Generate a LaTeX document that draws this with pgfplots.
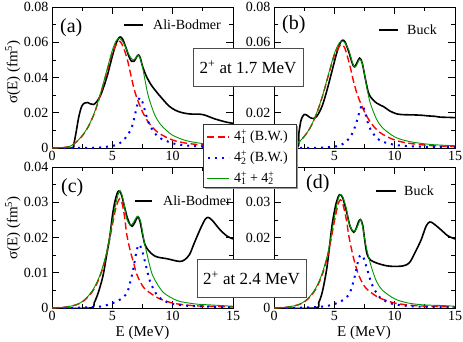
\documentclass[border=0pt]{standalone}
\usepackage{fontspec}
\setmainfont{Liberation Serif}
\usepackage{pgfplots}
\pgfplotsset{compat=1.18}
\definecolor{grn}{RGB}{0,150,0}
\newcommand{\fs}[1]{\fontsize{#1}{#1}\selectfont}
% 4 with stacked sub/sup, e.g. \st{4}{1}
\newcommand{\st}[2]{#1\rlap{\textsuperscript{+}}\textsubscript{#2}}

\pgfplotsset{
  panel/.style={
    scale only axis, width=181pt, height=141pt,
    xmin=0, xmax=15, xtick={0,5,10,15}, xticklabels={0,5,10,15},
    minor xtick={2.5,7.5,12.5},
    tick align=inside, xtick pos=both, ytick pos=both,
    xticklabel pos=lower, yticklabel pos=left,
    major tick length=7pt, minor tick length=4pt,
    every tick/.append style={black, line width=0.7pt},
    axis line style={line width=0.8pt},
    tick label style={font=\fs{14}},
    scaled y ticks=false,
    /pgf/number format/assume math mode=true,
  },
  top/.style={ymin=0, ymax=0.08, ytick={0,0.02,0.04,0.06,0.08},
    yticklabels={0,0.02,0.04,0.06,0.08}, minor ytick={0.01,0.03,0.05,0.07}},
  bot/.style={ymin=0, ymax=0.04, ytick={0,0.01,0.02,0.03,0.04},
    yticklabels={0,0.01,0.02,0.03,0.04}, minor ytick={0.005,0.015,0.025,0.035}},
  blk/.style={black, line width=1.6pt, smooth},
  rdd/.style={red, line width=1.4pt, dash pattern=on 7pt off 3.5pt, smooth},
  bld/.style={blue, line width=2pt, dash pattern=on 2pt off 5pt, smooth},
  gln/.style={grn, line width=0.9pt, smooth},
}

\begin{document}
\begin{tikzpicture}
\useasboundingbox (0,0) rectangle (463pt,-341pt);

% (a) 2+ at 1.7 MeV, Ali-Bodmer  (the "15" sits under the legend box)
\begin{axis}[panel, top, xticklabels={0,5,10,}, at={(52pt,-148pt)}, anchor=south west]
\addplot[blk] coordinates {(0,0)(1.65,0)(1.8,0.002)(2.0,0.009)(2.2,0.017)(2.45,0.0235)(2.7,0.0255)(2.95,0.0258)(3.2,0.025)(3.45,0.0247)(3.7,0.0262)(4.0,0.0295)(4.3,0.035)(4.6,0.0415)(4.9,0.0495)(5.2,0.057)(5.45,0.0615)(5.65,0.063)(5.85,0.0618)(6.1,0.0575)(6.4,0.0515)(6.6,0.0492)(6.8,0.0492)(7.0,0.0515)(7.15,0.0528)(7.3,0.0515)(7.5,0.0465)(7.8,0.041)(8.2,0.036)(8.7,0.0315)(9.2,0.0275)(9.7,0.0238)(10.2,0.0215)(10.7,0.0202)(11.2,0.0195)(11.7,0.0192)(12.2,0.0192)(12.6,0.0188)(13.0,0.0178)(13.5,0.0165)(14.0,0.0155)(14.5,0.0146)(15,0.014)};
\addplot[rdd] coordinates {(0,0)(1,0.0003)(1.5,0.001)(2,0.0033)(2.5,0.0068)(3,0.012)(3.5,0.0195)(4,0.03)(4.5,0.042)(5,0.054)(5.5,0.0605)(5.75,0.0595)(6,0.0555)(6.25,0.050)(6.5,0.0425)(6.75,0.035)(7,0.029)(7.5,0.0205)(8,0.0145)(8.5,0.0105)(9,0.0078)(10,0.0045)(11,0.0029)(12,0.002)(13,0.0014)(14,0.0011)(15,0.0009)};
\addplot[bld] coordinates {(1,0)(3,0.0001)(4,0.0003)(5,0.0012)(5.5,0.0022)(6,0.0050)(6.5,0.010)(6.75,0.015)(7,0.0225)(7.25,0.0285)(7.5,0.026)(7.75,0.02)(8,0.0145)(8.5,0.0085)(9,0.0055)(10,0.0027)(11,0.0015)(12,0.001)(13,0.0007)(14,0.0005)(15,0.0004)};
\addplot[gln] coordinates {(0,0)(1,0.0003)(1.5,0.001)(2,0.0034)(2.5,0.007)(3,0.0122)(3.5,0.0198)(4,0.0305)(4.5,0.043)(5,0.0555)(5.35,0.0612)(5.6,0.0622)(5.9,0.060)(6.2,0.0555)(6.5,0.0515)(6.75,0.050)(7.0,0.0515)(7.15,0.0526)(7.3,0.051)(7.5,0.046)(7.75,0.037)(8,0.029)(8.5,0.019)(9,0.0133)(9.5,0.0099)(10,0.0072)(11,0.0044)(12,0.003)(13,0.0021)(14,0.0016)(15,0.0013)};
\end{axis}

% (b) 2+ at 1.7 MeV, Buck  (labels under the boxes left out)
\begin{axis}[panel, top, xticklabels={,5,10,15}, yticklabels={,0.02,,0.06,0.08},
  at={(274pt,-148pt)}, anchor=south west]
\addplot[blk] coordinates {(0,0)(1.9,0)(2.05,0.008)(2.25,0.016)(2.5,0.019)(2.75,0.0185)(3.0,0.0172)(3.3,0.0168)(3.6,0.0185)(4.0,0.024)(4.4,0.033)(4.8,0.0435)(5.2,0.054)(5.5,0.0598)(5.7,0.0612)(5.9,0.060)(6.2,0.0545)(6.5,0.0478)(6.67,0.046)(6.85,0.048)(7.1,0.051)(7.3,0.0485)(7.55,0.040)(7.8,0.032)(8.0,0.029)(8.5,0.0255)(9.1,0.0234)(9.6,0.021)(10.2,0.0193)(10.8,0.0189)(11.5,0.0188)(12.2,0.0186)(12.8,0.0182)(13.3,0.018)(13.8,0.0175)(14.4,0.0174)(15,0.0172)};
\addplot[rdd] coordinates {(0,0)(1,0.0003)(1.5,0.001)(2,0.003)(2.5,0.0065)(3,0.0115)(3.5,0.019)(4,0.029)(4.5,0.041)(5,0.0525)(5.45,0.058)(5.65,0.0585)(5.85,0.057)(6.1,0.0515)(6.35,0.045)(6.6,0.0375)(6.85,0.0315)(7.1,0.0268)(7.5,0.0205)(8,0.0145)(8.5,0.0105)(9,0.0078)(10,0.0045)(11,0.0029)(12,0.002)(13,0.0014)(14,0.0011)(15,0.0009)};
\addplot[bld] coordinates {(1,0)(3,0.0001)(4,0.0002)(5,0.0008)(5.5,0.0015)(6,0.0038)(6.33,0.0065)(6.6,0.010)(6.9,0.016)(7.1,0.021)(7.3,0.0244)(7.5,0.0215)(7.75,0.015)(8,0.0105)(8.5,0.0058)(9,0.0036)(10,0.0018)(11,0.0011)(12,0.0008)(13,0.0006)(14,0.0005)(15,0.0004)};
\addplot[gln] coordinates {(0,0)(1,0.0003)(1.5,0.001)(2,0.003)(2.5,0.0065)(3,0.0116)(3.5,0.0192)(4,0.0292)(4.5,0.0415)(5,0.0536)(5.4,0.0595)(5.65,0.0607)(5.9,0.0595)(6.2,0.0555)(6.45,0.0495)(6.67,0.0458)(6.85,0.0470)(7.0,0.0493)(7.12,0.0503)(7.3,0.0485)(7.5,0.042)(7.75,0.0323)(8,0.025)(8.5,0.0163)(9,0.0114)(10,0.0063)(11,0.004)(12,0.0028)(13,0.002)(14,0.0016)(15,0.0013)};
\end{axis}

% (c) 2+ at 2.4 MeV, Ali-Bodmer
\begin{axis}[panel, bot, at={(52pt,-308pt)}, anchor=south west]
\addplot[blk] coordinates {(0,0)(3.15,0)(3.5,0.0015)(3.8,0.004)(4.0,0.0062)(4.25,0.0095)(4.5,0.0145)(4.8,0.0205)(5.0,0.026)(5.2,0.030)(5.4,0.0325)(5.55,0.0332)(5.75,0.0322)(6.0,0.0288)(6.25,0.0255)(6.5,0.0235)(6.65,0.0232)(6.85,0.0242)(7.05,0.0256)(7.15,0.0258)(7.3,0.0245)(7.5,0.021)(7.7,0.018)(8.0,0.0163)(8.4,0.015)(8.8,0.0144)(9.5,0.014)(10.0,0.0136)(10.6,0.0132)(11.0,0.0137)(11.4,0.0152)(11.8,0.0185)(12.3,0.0225)(12.7,0.0252)(12.95,0.0257)(13.3,0.0248)(13.9,0.0223)(14.5,0.0204)(15,0.0196)};
\addplot[rdd] coordinates {(0,0)(1,0.0002)(1.5,0.0005)(2,0.0009)(2.5,0.0017)(3,0.0032)(3.5,0.0055)(4,0.0092)(4.5,0.0148)(5,0.0235)(5.3,0.0285)(5.6,0.031)(5.8,0.0298)(6.0,0.0262)(6.2,0.0208)(6.5,0.016)(6.75,0.013)(7,0.0098)(7.3,0.0075)(7.6,0.0058)(8,0.0046)(8.5,0.0034)(9,0.0025)(10,0.0014)(11,0.0009)(12,0.0006)(13,0.0005)(14,0.0004)(15,0.0003)};
\addplot[bld] coordinates {(1,0)(3,0.0002)(4,0.0004)(4.8,0.0011)(5.6,0.0023)(6.2,0.0042)(6.5,0.0075)(6.75,0.0113)(7.0,0.016)(7.2,0.018)(7.45,0.0165)(7.7,0.0132)(8.1,0.0078)(8.6,0.0042)(9,0.0027)(9.8,0.0013)(11,0.0007)(12,0.0005)(13,0.0004)(14,0.0003)(15,0.0002)};
\addplot[gln] coordinates {(0,0)(1,0.0002)(1.5,0.0005)(2,0.0009)(2.5,0.0018)(3,0.0034)(3.5,0.0058)(4,0.0096)(4.5,0.0155)(5,0.0245)(5.3,0.0298)(5.6,0.0333)(5.8,0.032)(6.0,0.029)(6.2,0.0252)(6.5,0.0235)(6.75,0.0243)(7.0,0.0258)(7.15,0.026)(7.35,0.0245)(7.6,0.0195)(7.84,0.0158)(8.1,0.012)(8.4,0.0088)(9.2,0.0045)(10.3,0.0022)(11,0.0016)(12,0.0011)(13,0.0009)(14,0.0007)(15,0.0005)};
\end{axis}

% (d) 2+ at 2.4 MeV, Buck  (0.01 and 0.04 sit under the boxes)
\begin{axis}[panel, bot, yticklabels={0,,0.02,0.03,}, at={(274pt,-308pt)}, anchor=south west]
\addplot[blk] coordinates {(0,0)(3.42,0)(3.7,0.0015)(4.0,0.0045)(4.4,0.0118)(4.8,0.0232)(5.1,0.029)(5.35,0.0318)(5.5,0.0321)(5.7,0.0312)(6.0,0.0275)(6.3,0.0232)(6.6,0.0215)(6.8,0.0225)(7.0,0.0244)(7.17,0.0251)(7.35,0.0235)(7.55,0.0185)(7.72,0.0152)(8.0,0.0136)(8.56,0.0127)(9.3,0.012)(9.94,0.0118)(10.6,0.0119)(11.0,0.0123)(11.3,0.0132)(11.7,0.0158)(12.2,0.0194)(12.6,0.0232)(12.9,0.0244)(13.2,0.024)(13.8,0.0223)(14.4,0.0205)(15,0.0196)};
\addplot[rdd] coordinates {(0,0)(1,0.0002)(1.5,0.0005)(2,0.0009)(2.5,0.0017)(3,0.0032)(3.5,0.0056)(4,0.0095)(4.5,0.0155)(5,0.0245)(5.3,0.0293)(5.5,0.0307)(5.7,0.0296)(6.0,0.025)(6.2,0.0205)(6.5,0.0155)(6.75,0.0122)(7,0.0095)(7.3,0.0073)(7.6,0.0057)(8,0.0045)(8.5,0.0033)(9,0.0025)(10,0.0014)(11,0.0009)(12,0.0006)(13,0.0005)(14,0.0004)(15,0.0003)};
\addplot[bld] coordinates {(1,0)(3,0.0002)(4,0.0004)(4.8,0.0009)(5.6,0.002)(6.2,0.0038)(6.5,0.0065)(6.75,0.0098)(7.0,0.0138)(7.2,0.0151)(7.45,0.014)(7.7,0.0112)(8.1,0.0068)(8.6,0.0037)(9,0.0024)(9.8,0.0012)(11,0.0006)(12,0.0004)(13,0.0003)(14,0.0003)(15,0.0002)};
\addplot[gln] coordinates {(0,0)(1,0.0002)(1.5,0.0005)(2,0.0009)(2.5,0.0018)(3,0.0034)(3.5,0.0059)(4,0.0099)(4.5,0.0162)(5,0.0256)(5.3,0.0307)(5.5,0.0322)(5.7,0.0315)(6.0,0.0282)(6.2,0.0243)(6.5,0.022)(6.75,0.022)(7.0,0.0238)(7.15,0.025)(7.3,0.0238)(7.6,0.018)(7.84,0.0145)(8.1,0.0113)(8.5,0.0075)(9,0.005)(10,0.0026)(11,0.0015)(12,0.001)(13,0.0008)(14,0.0007)(15,0.0005)};
\end{axis}

\begin{scope}[x=1pt,y=-1pt]
% axis titles
\node[rotate=90, font=\fs{15}, inner sep=0] at (13,72) {σ(E) (fm\textsuperscript{5})};
\node[rotate=90, font=\fs{15}, inner sep=0] at (13,228) {σ(E) (fm\textsuperscript{5})};
\node[font=\fs{15}, inner sep=0] at (142.5,333) {E (MeV)};
\node[font=\fs{15}, inner sep=0] at (364,333) {E (MeV)};
% panel letters
\node[anchor=west, font=\fs{20}, inner sep=0] at (60,27.5) {(a)};
\node[anchor=west, font=\fs{20}, inner sep=0] at (282,25) {(b)};
\node[anchor=west, font=\fs{20}, inner sep=0] at (61,187.5) {(c)};
\node[anchor=west, font=\fs{20}, inner sep=0] at (306,184) {(d)};
% per-panel legends
\draw[black, line width=1.6pt] (124,25) -- (143,25);
\node[anchor=west, font=\fs{14}, inner sep=0] at (153,25) {Ali-Bodmer};
\draw[black, line width=1.6pt] (379,30) -- (398,30);
\node[anchor=west, font=\fs{14}, inner sep=0] at (407,30) {Buck};
\draw[black, line width=1.6pt] (135,201) -- (152,201);
\node[anchor=west, font=\fs{14}, inner sep=0] at (163,201) {Ali-Bodmer};
\draw[black, line width=1.6pt] (376,191) -- (396,191);
\node[anchor=west, font=\fs{14}, inner sep=0] at (404,191) {Buck};
% text boxes
\draw[black!70, fill=white, line width=0.8pt] (193,48) rectangle (303,86);
\node[font=\fs{17}, inner sep=0] at (248,67) {2\textsuperscript{+} at 1.7 MeV};
\draw[black!70, fill=white, line width=0.8pt] (197,259) rectangle (306,297);
\node[font=\fs{17}, inner sep=0] at (251.5,278) {2\textsuperscript{+} at 2.4 MeV};
% shared legend
\fill[black!40] (205,126) rectangle (298,189);
\draw[black!80, fill=white, line width=0.8pt] (203,124) rectangle (296,187);
\draw[red, line width=1.4pt, dash pattern=on 7pt off 3.5pt] (207,137) -- (229,137);
\node[anchor=west, font=\fs{14}, inner sep=0] at (234,137) {\st{4}{1} (B.W.)};
\draw[blue, line width=2pt, dash pattern=on 2pt off 5pt] (208,158) -- (229,158);
\node[anchor=west, font=\fs{14}, inner sep=0] at (234,158) {\st{4}{2} (B.W.)};
\draw[grn, line width=0.9pt] (207,178) -- (229,178);
\node[anchor=west, font=\fs{14}, inner sep=0] at (234,178) {\st{4}{1} + \st{4}{2}};
\end{scope}
\end{tikzpicture}
\end{document}
